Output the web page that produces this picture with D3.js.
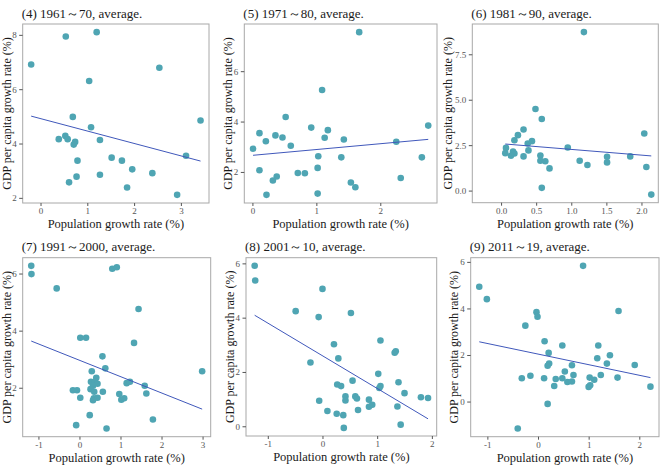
<!DOCTYPE html>
<html lang="en">
<head>
    <meta charset="utf-8">
    <title>Population vs GDP per capita growth</title>
    <script src="https://cdn.jsdelivr.net/npm/d3@7/dist/d3.min.js" charset="utf-8"></script>
    <style type="text/css">
        body { margin: 0; background: #fff; }
        svg text { font-family: "Liberation Serif", "DejaVu Serif", serif; }
    </style>
</head>
<body>
<script type="text/javascript">
    // (4) 1961~70
    var pop4 = [-0.2, 0.54, 1.2, 1.04, 2.54, 3.42, 0.69, 1.08, 0.39, 0.53, 0.58, 0.74, 0.71, 1.27, 0.79, 1.52, 1.74, 1.96, 2.39, 3.11, 0.61, 0.77, 1.27, 1.85, 2.92];
    var gdp4 = [6.91, 7.94, 8.1, 6.3, 6.79, 4.85, 4.98, 4.6, 4.16, 4.28, 4.16, 4.06, 3.96, 4.13, 3.37, 3.48, 3.37, 3.05, 2.91, 3.55, 2.57, 2.78, 2.85, 2.38, 2.11];
    // (5) 1971~80
    var pop5 = [1.67, 1.09, 0.52, 0.92, 1.18, 1.13, 1.43, 0.11, 0.36, 0.47, 0.21, 0.6, 0.01, 1.03, 1.39, 2.25, 2.75, 2.65, 0.11, 0.82, 0.71, 1.02, 0.38, 0.32, 0.22, 1.02, 1.54, 1.61, 2.32];
    var gdp5 = [7.55, 5.25, 4.18, 3.76, 3.66, 3.36, 3.29, 3.54, 3.45, 3.37, 3.22, 3.04, 2.92, 2.62, 2.58, 3.2, 3.84, 2.58, 2.07, 1.95, 1.96, 2.16, 1.82, 1.66, 1.09, 1.14, 1.58, 1.39, 1.76];
    // (6) 1981~90
    var pop6 = [1.18, 0.49, 0.58, 0.32, 0.24, 2.04, 0.19, 0.38, 0.44, 0.07, 0.95, 0.17, 0.19, 0.06, 0.14, 0.39, 0.32, 0.56, 0.56, 0.63, 0.69, 1.12, 1.23, 1.51, 1.51, 1.84, 2.07, 0.58, 2.14];
    var gdp6 = [8.72, 4.49, 3.94, 3.36, 3.05, 3.14, 2.77, 2.59, 2.72, 2.35, 2.37, 2.15, 2.04, 2.06, 1.92, 2.21, 1.88, 1.93, 1.64, 1.61, 1.22, 1.64, 1.41, 1.86, 1.55, 1.88, 1.3, 0.15, -0.22];
    // (7) 1991~2000
    var pop7 = [-1.175, -1.17, -0.555, 0.8, 0.91, 1.44, 0.02, 0.16, 1.33, 0.56, 0.63, 0.3, 2.99, 0.28, 0.41, 0.38, 0.44, 0.33, 0.27, 0.36, 0.57, -0.16, -0.06, 0.02, 0.35, 0.44, 0.33, 0.97, 1.02, 1.09, 1.15, 1.23, 1.59, 1.63, 0.25, 1.79, -0.08, 0.66];
    var gdp7 = [6.27, 5.98, 5.48, 6.17, 6.22, 4.76, 3.75, 3.75, 3.57, 3.1, 2.68, 2.58, 2.58, 2.21, 2.35, 2.21, 2.14, 2.07, 1.95, 1.86, 1.86, 1.91, 1.91, 1.65, 1.63, 1.65, 1.56, 1.78, 1.58, 1.63, 2.16, 2.21, 2.07, 1.8, 1.04, 0.89, 0.69, 0.57];
    // (8) 2001~10
    var pop8 = [-1.24, -1.23, 0.0, -0.49, -0.07, 0.52, 0.21, 1.06, 1.32, 1.34, 0.29, -0.22, 1.02, 0.55, 1.39, 0.27, 0.34, 1.04, 1.06, 1.5, -0.06, 0.42, 0.42, 0.6, 0.63, 0.85, 0.85, 0.91, 1.37, 1.8, 1.93, 0.09, 0.26, 0.38, 0.65, 0.39, 1.43];
    var gdp8 = [5.91, 5.37, 5.06, 4.24, 4.02, 4.17, 3.02, 3.16, 2.71, 2.76, 2.5, 2.35, 1.93, 1.68, 1.62, 1.54, 1.48, 1.41, 1.48, 1.22, 0.94, 1.1, 0.95, 1.1, 1.02, 0.98, 0.72, 0.79, 0.73, 1.07, 1.04, 0.56, 0.46, 0.41, 0.6, -0.06, 0.06];
    // (9) 2011~19
    var pop9 = [-1.16, -1.01, 0.89, 1.59, -0.03, -0.01, -0.25, 0.13, 0.48, 1.19, 0.21, 1.42, 1.17, 0.22, 0.19, 0.67, 1.36, 1.91, 0.53, 0.7, 1.24, -0.32, -0.15, 0.12, 0.35, 0.48, 0.58, 0.67, 1.02, 1.11, 1.57, 0.32, 1.0, 1.03, 2.22, 0.19, -0.4];
    var gdp9 = [4.93, 4.4, 5.83, 3.89, 3.84, 3.64, 3.26, 2.59, 2.41, 2.41, 2.09, 1.99, 1.86, 1.63, 1.54, 1.56, 1.63, 1.57, 1.29, 1.14, 1.14, 1.0, 1.11, 1.0, 0.97, 1.0, 0.84, 0.86, 1.03, 0.94, 1.03, 0.67, 0.63, 0.7, 0.64, -0.1, -1.16];

    var titles = ['(4) 1961\uff5e70, average.', '(5) 1971\uff5e80, average.', '(6) 1981\uff5e90, average.',
        '(7) 1991\uff5e2000, average.', '(8) 2001\uff5e10, average.', '(9) 2011\uff5e19, average.'];
    var xTicks = [[0, 1, 2, 3], [0, 1, 2], [0, 0.5, 1, 1.5, 2], [-1, 0, 1, 2, 3], [-1, 0, 1, 2], [-1, 0, 1, 2]];
    var yTicks = [[2, 4, 6, 8], [2, 4, 6], [0, 2.5, 5, 7.5], [2, 4, 6], [0, 2, 4, 6], [0, 2, 4, 6]];
    var xTickFmt = ['d', 'd', '.1f', 'd', 'd', 'd'];
    var yTickFmt = ['d', 'd', '.1f', 'd', 'd', 'd'];
    // panel (6) axis reaches further left than the points
    var xLimits = [null, null, [-0.41, 2.24], null, null, null];

    var xLabel = 'Population growth rate (%)';
    var yLabel = 'GDP per capita growth rate (%)';

    var series = [[pop4, gdp4], [pop5, gdp5], [pop6, gdp6], [pop7, gdp7], [pop8, gdp8], [pop9, gdp9]];

    // panel frames in px (left, top, right, bottom)
    var frames = [
        [22.7, 24, 209, 203], [244.3, 24, 437, 203], [472.3, 24, 658.3, 202.7],
        [22.7, 257.7, 210.7, 436.7], [246, 257.7, 436.7, 436], [470.7, 257.7, 659, 436.7]
    ];
    // y title distance left of the frame (wider tick labels push it out)
    var yTitleOffset = [11.5, 12.8, 20, 11.5, 12, 12.7];

    var serif = '"Liberation Serif", "DejaVu Serif", serif';
    // plain hyphen for negatives, like the original
    var fmtLocale = d3.formatLocale({decimal: '.', thousands: ',', grouping: [3], currency: ['', ''], minus: '-'});

    var svg = d3.select('body').append('svg')
        .attr('width', 663).attr('height', 468)
        .attr('font-family', serif);

    function expand(ext) {
        var pad = (ext[1] - ext[0]) * 0.05;
        return [ext[0] - pad, ext[1] + pad];
    }

    series.forEach(function (s, i) {
        var xs = s[0], ys = s[1];
        var f = frames[i];
        var pts = xs.map(function (d, k) { return {x: d, y: ys[k]}; });

        var x = d3.scaleLinear().domain(xLimits[i] || expand(d3.extent(xs))).range([f[0], f[2]]);
        var y = d3.scaleLinear().domain(expand(d3.extent(ys))).range([f[3], f[1]]);

        var g = svg.append('g');

        g.append('rect')
            .attr('x', f[0]).attr('y', f[1])
            .attr('width', f[2] - f[0]).attr('height', f[3] - f[1])
            .style('fill', 'none').style('stroke', '#a8a8a8').style('stroke-width', 1);

        var xAxis = g.append('g')
            .attr('transform', 'translate(0,' + f[3] + ')')
            .call(d3.axisBottom(x).tickValues(xTicks[i]).tickFormat(fmtLocale.format(xTickFmt[i])).tickSize(3).tickPadding(2));
        var yAxis = g.append('g')
            .attr('transform', 'translate(' + f[0] + ',0)')
            .call(d3.axisLeft(y).tickValues(yTicks[i]).tickFormat(fmtLocale.format(yTickFmt[i])).tickSize(3.5).tickPadding(2.5));
        [xAxis, yAxis].forEach(function (a) {
            a.attr('font-family', serif).attr('font-size', 9);
            a.select('.domain').remove();
            a.selectAll('line').style('stroke', '#555');
            a.selectAll('text').style('font-family', serif)
                .style('font-size', '9px').style('fill', '#555');
        });

        // lm fit
        var mx = d3.mean(xs), my = d3.mean(ys);
        var sxy = d3.sum(pts, function (p) { return (p.x - mx) * (p.y - my); });
        var sxx = d3.sum(pts, function (p) { return (p.x - mx) * (p.x - mx); });
        var b = sxy / sxx, a0 = my - b * mx;
        var ext = d3.extent(xs);

        g.selectAll('circle')
            .data(pts)
            .enter()
            .append('circle')
            .attr('cx', function (d) { return x(d.x); })
            .attr('cy', function (d) { return y(d.y); })
            .attr('r', 3.3)
            .style('fill', '#4fa5b3');

        g.append('line')
            .attr('x1', x(ext[0])).attr('y1', y(a0 + b * ext[0]))
            .attr('x2', x(ext[1])).attr('y2', y(a0 + b * ext[1]))
            .style('stroke', '#4058bb').style('stroke-width', 1);

        g.append('text')
            .attr('x', f[0] - 1).attr('y', f[1] - 6.5)
            .style('font-family', serif)
            .style('font-size', '13px').style('fill', '#1a1a1a')
            .text(titles[i]);

        g.append('text')
            .attr('x', (f[0] + f[2]) / 2).attr('y', f[3] + 25)
            .attr('text-anchor', 'middle')
            .style('font-family', serif)
            .style('font-size', '12.5px').style('fill', '#1a1a1a')
            .text(xLabel);

        g.append('text')
            .attr('transform', 'translate(' + (f[0] - yTitleOffset[i]) + ',' + ((f[1] + f[3]) / 2) + ') rotate(-90)')
            .attr('text-anchor', 'middle')
            .style('font-family', serif)
            .style('font-size', '12px').style('fill', '#1a1a1a')
            .text(yLabel);
    });
</script>
</body>
</html>
